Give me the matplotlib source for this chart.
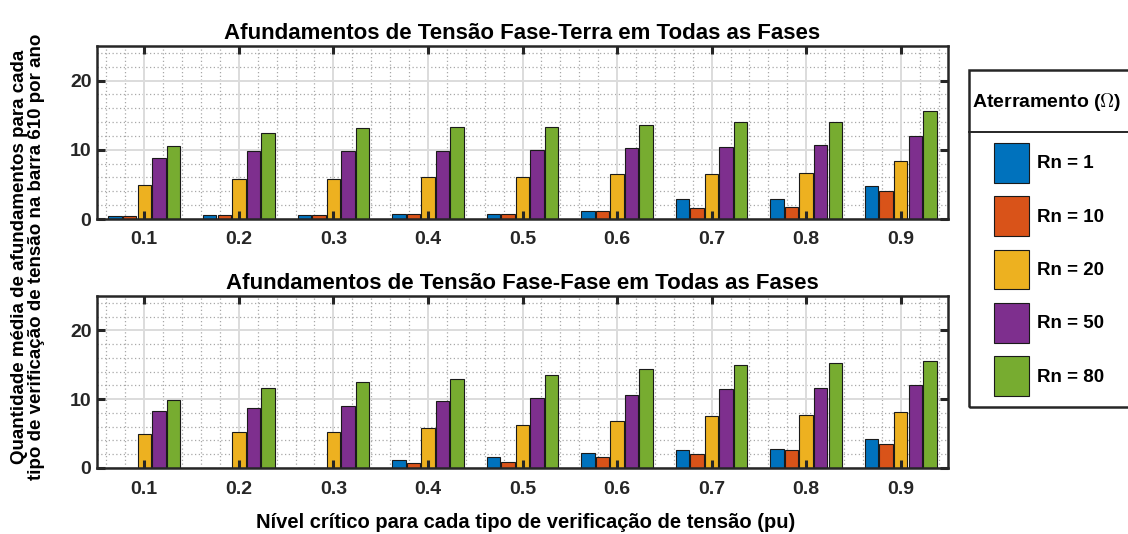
import matplotlib.pyplot as plt
import numpy as np
from matplotlib.ticker import MultipleLocator
from matplotlib.patches import Rectangle
from matplotlib.lines import Line2D

plt.rcParams['font.family'] = ['Liberation Sans', 'DejaVu Sans']
plt.rcParams['font.weight'] = 'bold'
plt.rcParams['mathtext.fontset'] = 'cm'

niveis = ['0.1', '0.2', '0.3', '0.4', '0.5', '0.6', '0.7', '0.8', '0.9']
rotulos = ['Rn = 1', 'Rn = 10', 'Rn = 20', 'Rn = 50', 'Rn = 80']
cores = ['#0072BD', '#D95319', '#EDB120', '#7E2F8E', '#77AC30']

# afundamentos fase-terra (uma lista por aterramento)
ft_rn1 = [0.48, 0.58, 0.63, 0.68, 0.72, 1.10, 2.85, 2.90, 4.73]
ft_rn10 = [0.50, 0.58, 0.63, 0.68, 0.77, 1.16, 1.55, 1.80, 4.06]
ft_rn20 = [4.97, 5.85, 5.85, 6.00, 6.00, 6.50, 6.50, 6.60, 8.36]
ft_rn50 = [8.80, 9.76, 9.76, 9.80, 9.90, 10.24, 10.43, 10.68, 12.03]
ft_rn80 = [10.60, 12.40, 13.20, 13.24, 13.30, 13.60, 13.96, 14.00, 15.56]

# afundamentos fase-fase
ff_rn1 = [0.0, 0.0, 0.0, 1.10, 1.64, 2.17, 2.60, 2.75, 4.25]
ff_rn10 = [0.0, 0.0, 0.0, 0.77, 0.92, 1.60, 2.08, 2.60, 3.43]
ff_rn20 = [4.93, 5.20, 5.20, 5.80, 6.18, 6.80, 7.54, 7.73, 8.07]
ff_rn50 = [8.30, 8.74, 8.94, 9.76, 10.14, 10.58, 11.50, 11.70, 12.03]
ff_rn80 = [9.90, 11.64, 12.50, 12.95, 13.55, 14.35, 14.93, 15.27, 15.56]

W, H = 1128, 534
fig = plt.figure(figsize=(W / 100, H / 100), dpi=100)

def painel(rect, series, titulo):
    ax = fig.add_axes(rect)
    x = np.arange(1, len(niveis) + 1)
    passo = 0.154
    larg = 0.143
    barras = []
    for i, (s, c) in enumerate(zip(series, cores)):
        b = ax.bar(x + (i - 2) * passo, s, larg, color=c, edgecolor='#1a1a1a',
                   linewidth=0.8, zorder=2)
        barras.append(b)
    ax.set_xlim(0.5, 9.5)
    ax.set_ylim(0, 25)
    ax.set_xticks(x)
    ax.set_xticklabels(niveis)
    ax.set_yticks([0, 10, 20])
    ax.xaxis.set_minor_locator(MultipleLocator(0.2))
    ax.yaxis.set_minor_locator(MultipleLocator(2))
    # grade desenhada por baixo das barras, marcas dos eixos por cima
    for v in ax.xaxis.get_minorticklocs():
        ax.axvline(v, color='#a8a8a8', lw=0.9, ls=(0, (1, 2)), zorder=0.5)
    for v in ax.yaxis.get_minorticklocs():
        ax.axhline(v, color='#a8a8a8', lw=0.9, ls=(0, (1, 2)), zorder=0.5)
    for v in x:
        ax.axvline(v, color='#dcdcdc', lw=1.4, zorder=0.6)
    for v in [0, 10, 20]:
        ax.axhline(v, color='#dcdcdc', lw=1.4, zorder=0.6)
    ax.set_axisbelow(False)
    ax.tick_params(which='major', direction='in', length=6, width=2.2,
                   top=True, right=True, color='#262626', labelcolor='#262626',
                   labelsize=14)
    ax.tick_params(axis='x', pad=9)
    ax.tick_params(axis='y', pad=4)
    ax.tick_params(which='minor', length=0)
    for sp in ax.spines.values():
        sp.set_linewidth(1.8)
        sp.set_color('#262626')
        sp.set_zorder(3)
    ax.set_title(titulo, fontsize=16, fontweight='bold', pad=5)
    return ax, barras

ax1, barras = painel([97 / W, 1 - 219 / H, 851 / W, 173 / H],
                     [ft_rn1, ft_rn10, ft_rn20, ft_rn50, ft_rn80],
                     'Afundamentos de Tensão Fase-Terra em Todas as Fases')
ax2, _ = painel([97 / W, 1 - 468 / H, 851 / W, 172 / H],
                [ff_rn1, ff_rn10, ff_rn20, ff_rn50, ff_rn80],
                'Afundamentos de Tensão Fase-Fase em Todas as Fases')

fig.text(526 / W, 1 - 522 / H,
         'Nível crítico para cada tipo de verificação de tensão (pu)',
         ha='center', va='center', fontsize=14.5, fontweight='bold')
fig.text(28 / W, 1 - 257 / H,
         'Quantidade média de afundamentos para cada\n'
         'tipo de verificação de tensão na barra 610 por ano',
         ha='center', va='center', rotation=90, fontsize=13.5,
         fontweight='bold', linespacing=1.05)

# legenda com cabeçalho separado
fig.patches.append(Rectangle((969 / W, 1 - 407 / H), 200 / W, 337 / H,
                             transform=fig.transFigure, fill=False,
                             ec='#262626', lw=1.8))
fig.lines.append(Line2D([969 / W, 1.1], [1 - 132 / H, 1 - 132 / H],
                        transform=fig.transFigure, color='#262626', lw=1.4))
fig.text(972 / W, 1 - 102 / H, 'Aterramento ($\\Omega$)', ha='left',
         va='center', fontsize=14, fontweight='bold')
fig.legend([b[0] for b in barras], rotulos, loc='upper left',
           bbox_to_anchor=(994 / W, 1 - 143 / H), borderaxespad=0,
           borderpad=0, frameon=False, handlelength=1.87, handleheight=2.9,
           labelspacing=0.71, handletextpad=0.43,
           prop={'size': 13.5, 'weight': 'bold'})

fig.savefig('out.png', dpi=100)
